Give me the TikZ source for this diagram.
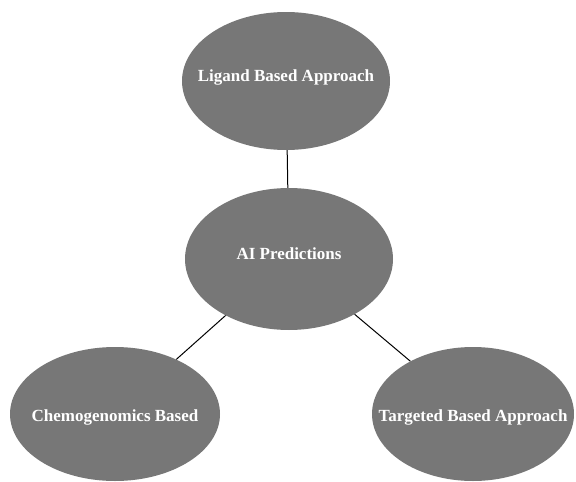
\documentclass[tikz,border=0pt]{standalone}
\usepackage{fontspec}
\setmainfont{Liberation Serif}
\usetikzlibrary{shapes.geometric}
\definecolor{blobgray}{HTML}{777777}
\tikzset{
	blob/.style={ellipse, fill=blobgray, minimum width=208pt, minimum height=140pt, inner sep=0pt},
	blobtext/.style={text=white, font=\bfseries\fontsize{17}{19}\selectfont, inner sep=0pt},
	lifted/.style={blobtext, text height=6pt, text depth=5pt},
	sunk/.style={blobtext, text height=14pt, text depth=0pt},
	link/.style={line width=1pt, black}
}

\begin{document}
\begin{tikzpicture}[x=1pt, y=-1pt]
		%%%%% START %%%%%
		
		\useasboundingbox (0, 0) rectangle (576, 482);
		
		\node[blob, minimum height=138pt, label={[lifted]center:Ligand Based Approach}] (lig) at (286, 81) {};
		\node[blob, minimum height=142pt, label={[lifted]center:AI Predictions}] (ai) at (289, 259) {};
		\node[blob, minimum width=210pt, minimum height=134pt,
			label={[sunk]center:Chemogenomics Based}] (chem) at (115, 414) {};
		\node[blob, minimum width=202pt, minimum height=134pt,
			label={[sunk]center:Targeted Based Approach}] (targ) at (473, 414) {};
		
		\draw[link] (lig) -- (ai);
		\draw[link] (ai) -- (chem);
		\draw[link] (ai) -- (targ);
		
		%%%%% END %%%%%
	\end{tikzpicture}
\end{document}
